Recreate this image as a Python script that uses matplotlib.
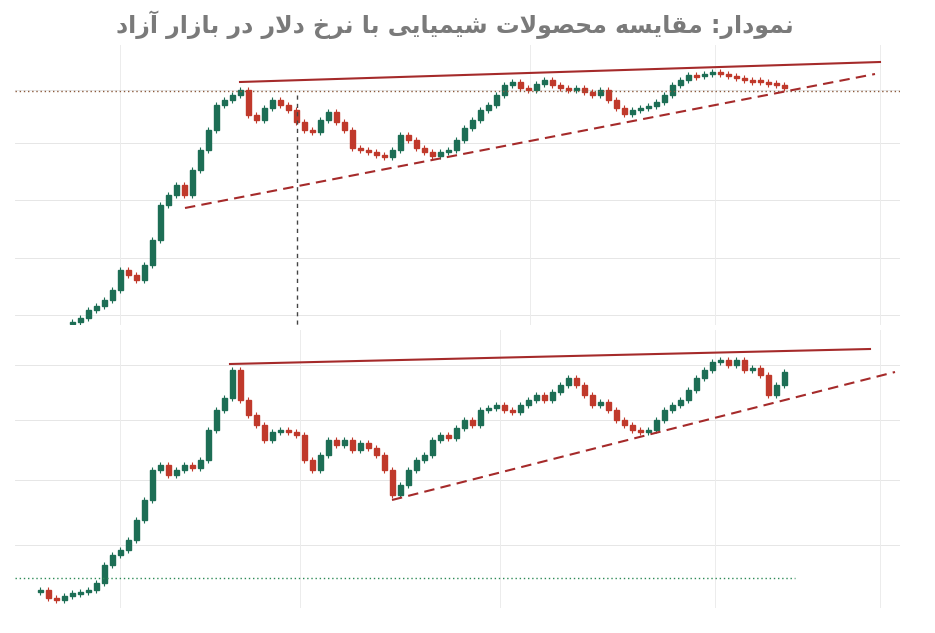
import numpy as np
import matplotlib.pyplot as plt

# close values per candle (chart units, higher = lower on screen like the source scan)
top_x = list(range(72, 792, 8))
top_close = [322, 318, 310, 306, 300, 290, 270, 275, 280, 265, 240, 205, 195, 185, 195, 170,
             150, 130, 105, 100, 95, 90, 115, 120, 108, 100, 105, 110, 122, 130, 132, 120,
             112, 122, 130, 148, 150, 152, 155, 157, 150, 135, 140, 148, 152, 156, 152, 150,
             140, 128, 120, 110, 105, 95, 85, 82, 88, 90, 84, 80, 85, 88, 90, 88, 92, 95,
             90, 100, 108, 114, 110, 108, 106, 102, 95, 85, 80, 75, 76, 74, 72, 74, 76, 78,
             80, 80, 82, 83, 85, 88]

bot_x = list(range(40, 792, 8))
bot_close = [590, 598, 600, 596, 593, 592, 590, 583, 565, 555, 550, 540, 520, 500, 470, 465,
             475, 470, 465, 468, 460, 430, 410, 398, 370, 400, 415, 425, 440, 432, 430, 432,
             435, 460, 470, 455, 440, 445, 440, 450, 443, 448, 455, 470, 495, 485, 470, 460,
             455, 440, 435, 438, 428, 420, 425, 410, 408, 405, 410, 412, 405, 400, 395, 400,
             392, 385, 378, 385, 395, 405, 402, 410, 420, 425, 430, 432, 430, 420, 410, 405,
             400, 390, 378, 370, 362, 360, 365, 360, 370, 368, 375, 395, 385, 372]

top_resist = ([240, 880], [82, 62])
top_support = ([185, 875], [208, 74])
bot_resist = ([230, 870], [364, 349])
bot_support = ([392, 895], [500, 372])

GREEN = "#1d6e55"
RED = "#c0392b"
LINE = "#a52a2a"

ISO_FIN_INI_MED = {
    "ا": (0xFE8D, 0xFE8E, None, None), "آ": (0xFE81, 0xFE82, None, None),
    "ب": (0xFE8F, 0xFE90, 0xFE91, 0xFE92), "ت": (0xFE95, 0xFE96, 0xFE97, 0xFE98),
    "ح": (0xFEA1, 0xFEA2, 0xFEA3, 0xFEA4), "خ": (0xFEA5, 0xFEA6, 0xFEA7, 0xFEA8),
    "د": (0xFEA9, 0xFEAA, None, None), "ر": (0xFEAD, 0xFEAE, None, None),
    "ز": (0xFEAF, 0xFEB0, None, None), "س": (0xFEB1, 0xFEB2, 0xFEB3, 0xFEB4),
    "ش": (0xFEB5, 0xFEB6, 0xFEB7, 0xFEB8), "ص": (0xFEB9, 0xFEBA, 0xFEBB, 0xFEBC),
    "ق": (0xFED5, 0xFED6, 0xFED7, 0xFED8), "ل": (0xFEDD, 0xFEDE, 0xFEDF, 0xFEE0),
    "م": (0xFEE1, 0xFEE2, 0xFEE3, 0xFEE4), "ن": (0xFEE5, 0xFEE6, 0xFEE7, 0xFEE8),
    "ه": (0xFEE9, 0xFEEA, 0xFEEB, 0xFEEC), "و": (0xFEED, 0xFEEE, None, None),
    "ی": (0xFBFC, 0xFBFD, 0xFBFE, 0xFBFF),
}


def shape(text):
    """Minimal Persian shaping + RTL reversal for matplotlib."""
    text = text.replace("ي", "ی")
    out = []
    chars = list(text)
    i = 0
    while i < len(chars):
        c = chars[i]
        prev = chars[i - 1] if i > 0 else None
        joins_prev = prev in ISO_FIN_INI_MED and ISO_FIN_INI_MED[prev][2] is not None
        if c == "ل" and i + 1 < len(chars) and chars[i + 1] == "ا":
            out.append(chr(0xFEFC if joins_prev else 0xFEFB))
            i += 2
            continue
        if c not in ISO_FIN_INI_MED:
            out.append(c)
            i += 1
            continue
        iso, fin, ini, med = ISO_FIN_INI_MED[c]
        nxt = chars[i + 1] if i + 1 < len(chars) else None
        joins_next = ini is not None and nxt in ISO_FIN_INI_MED
        if joins_prev and joins_next:
            out.append(chr(med))
        elif joins_prev:
            out.append(chr(fin))
        elif joins_next:
            out.append(chr(ini))
        else:
            out.append(chr(iso))
        i += 1
    return "".join(reversed(out))


def candles(ax, xs, closes, start):
    opens = [start] + closes[:-1]
    for x, o, c in zip(xs, opens, closes):
        # smaller pixel value = higher price -> green
        col = GREEN if c < o else RED
        lo, hi = min(o, c), max(o, c)
        if hi - lo < 2:
            hi = lo + 2
        ax.vlines(x, lo - 3, hi + 3, color=col, lw=0.8)
        ax.add_patch(plt.Rectangle((x - 2.5, lo), 5, hi - lo, color=col))


fig = plt.figure(figsize=(9.35, 6.33), dpi=100)
W, H = 935, 633
ax1 = fig.add_axes([15 / W, 1 - 325 / H, 885 / W, 280 / H])
ax2 = fig.add_axes([15 / W, 1 - 608 / H, 885 / W, 278 / H])

for ax, ylim, hgrid, vgrid in [
    (ax1, (325, 45), [90, 143, 200, 258, 315], [120, 530, 715, 880]),
    (ax2, (608, 330), [365, 420, 480, 545], [120, 300, 500, 715, 880]),
]:
    ax.set_xlim(15, 900)
    ax.set_ylim(*ylim)
    for s in ax.spines.values():
        s.set_visible(False)
    ax.set_xticks([])
    ax.set_yticks([])
    for y in hgrid:
        ax.axhline(y, color="#e6e6e6", lw=0.7, zorder=0)
    for x in vgrid:
        ax.axvline(x, color="#ececec", lw=0.7, zorder=0)

candles(ax1, top_x, top_close, 324)
candles(ax2, bot_x, bot_close, 592)

ax1.axhline(91, color="#8b5a3c", lw=1, ls=(0, (1, 2)))
ax1.vlines(297, 95, 325, color="#444444", lw=1, ls=(0, (3, 3)))
ax1.plot(*top_resist, color=LINE, lw=1.5)
ax1.plot(*top_support, color=LINE, lw=1.5, ls=(0, (5, 3)))

ax2.hlines(578, 15, 795, color="#2e8b57", lw=1, ls=(0, (1, 2)))
ax2.plot(*bot_resist, color=LINE, lw=1.5)
ax2.plot(*bot_support, color=LINE, lw=1.5, ls=(0, (5, 3)))

title = shape("نمودار: مقایسه محصولات شیمیایی با نرخ دلار در بازار آزاد")
fig.text(0.487, 1 - 25 / H, title, ha="center", va="center", fontsize=17,
         fontweight="bold", color="#7a7a7a", family=["DejaVu Sans"])

fig.savefig("out.png", dpi=100)
